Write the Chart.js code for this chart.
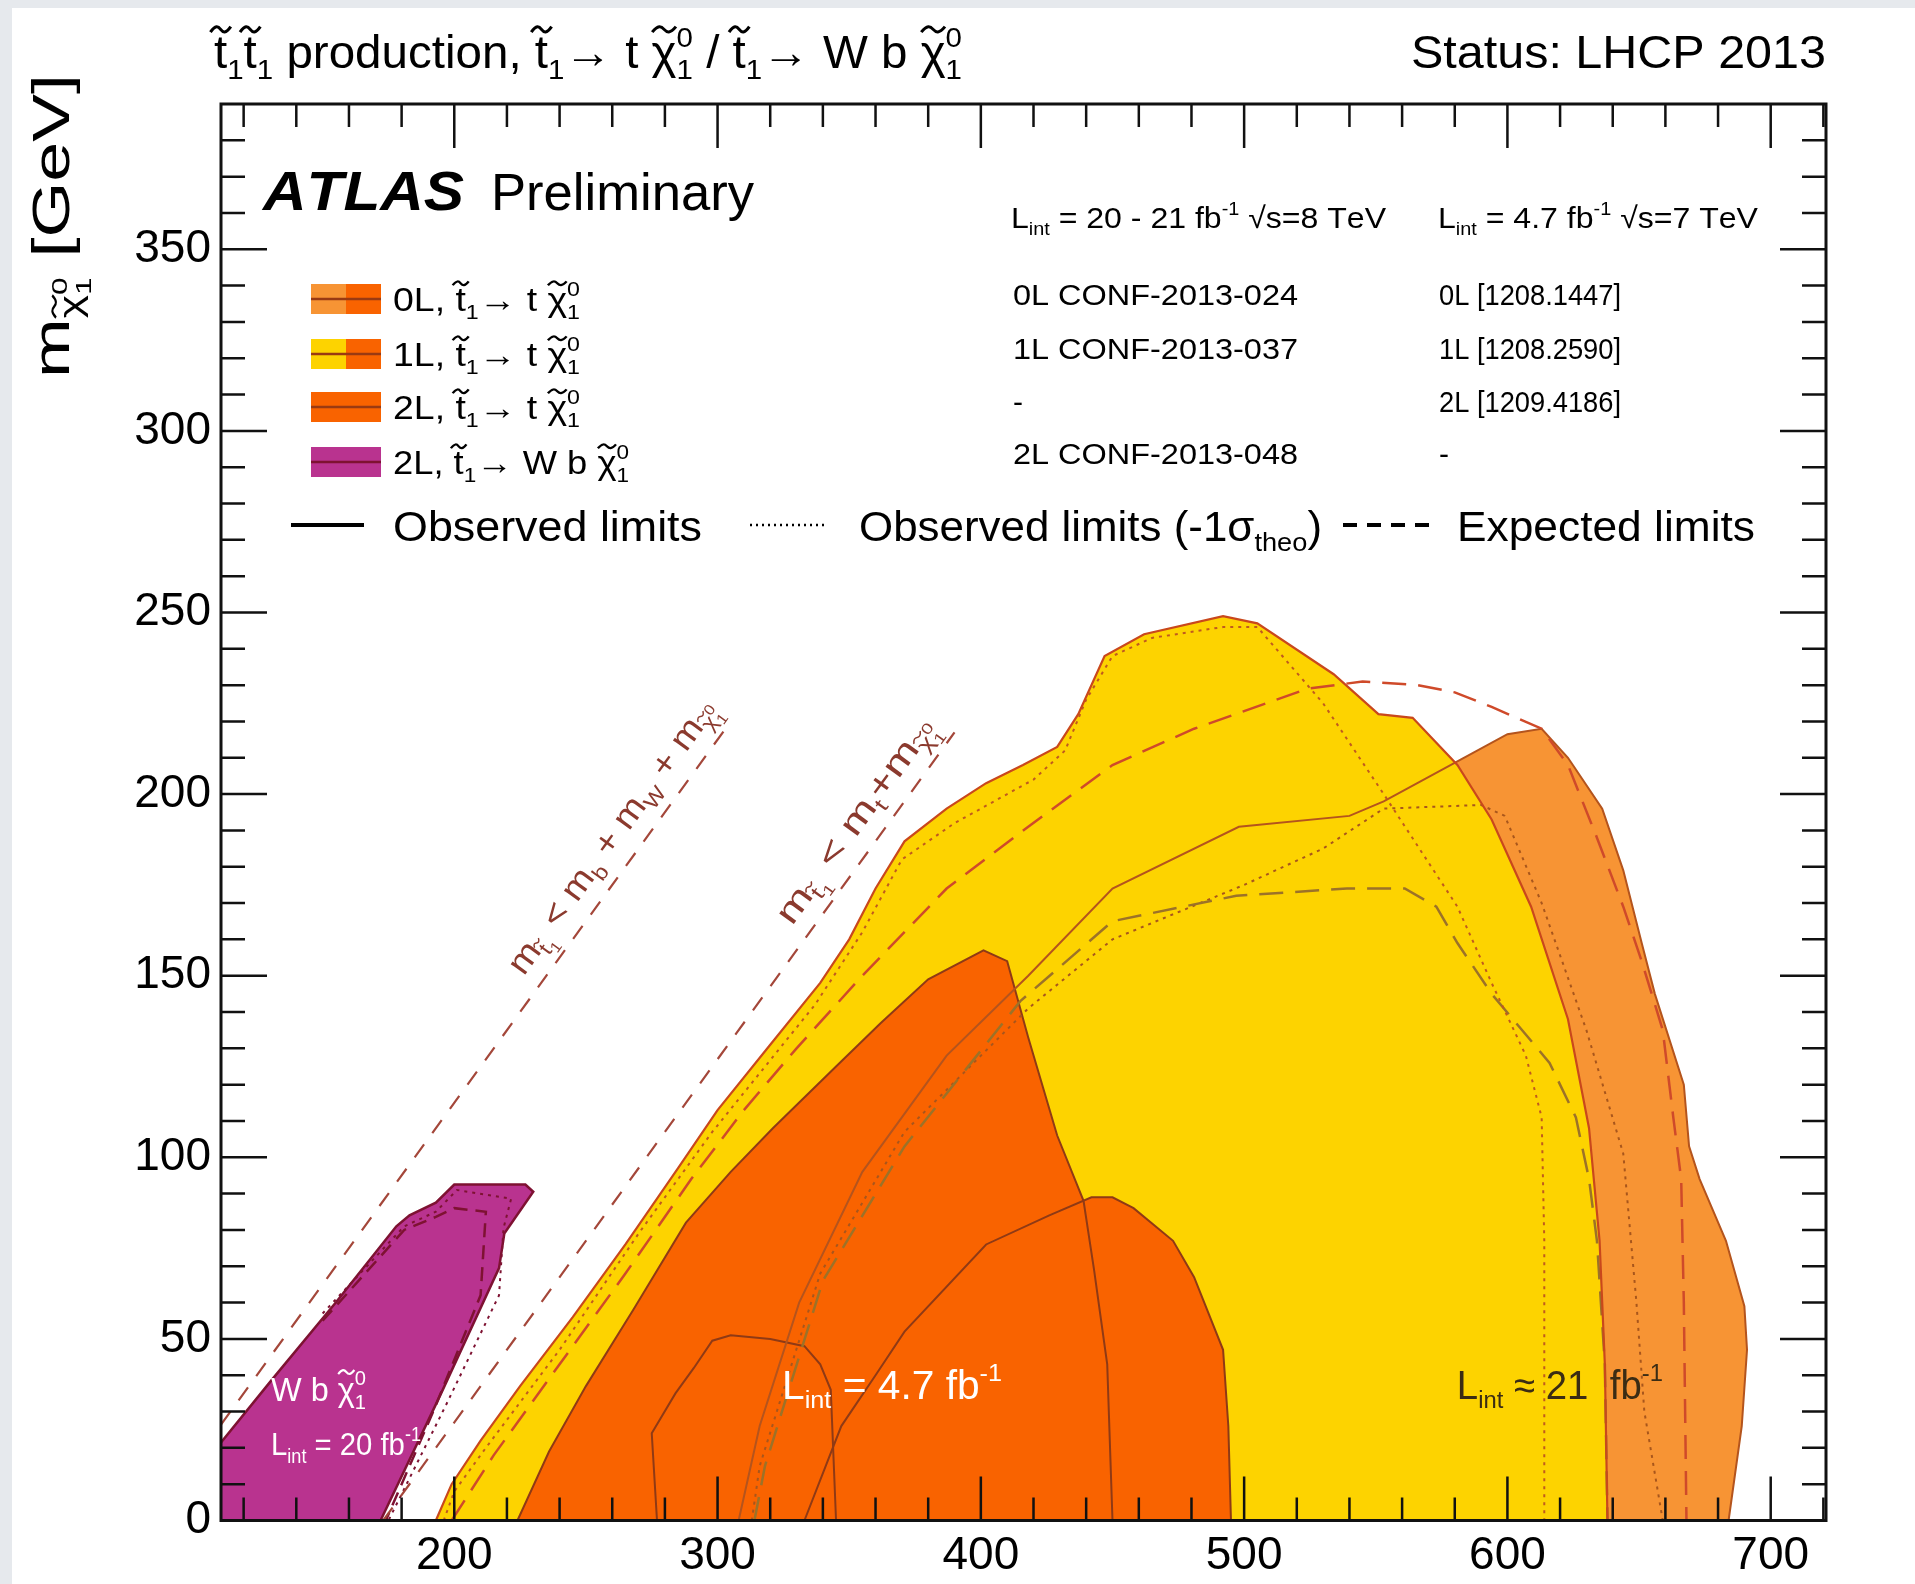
<!DOCTYPE html>
<html>
<head>
<meta charset="utf-8">
<script src="https://cdn.jsdelivr.net/npm/chart.js@4.4.1/dist/chart.umd.min.js"></script>
<style>
  html, body { margin: 0; padding: 0; background: #fff; }
  canvas { display: block; }
</style>
</head>
<body>
<canvas id="chart" width="1915" height="1584" style="width:1915px;height:1584px"></canvas>
<script>
// axis ranges and ticks
const xMin = 111.4, xMax = 721;
const yMin = 0, yMax = 390;
const xMajor = [200, 300, 400, 500, 600, 700];
const yMajor = [0, 50, 100, 150, 200, 250, 300, 350];
const xMinorStep = 20, yMinorStep = 10;

// 2L, stop -> W b chi (8 TeV)
const wbObs = [[111.4, 21.5], [131, 39], [155, 60], [178, 81], [183, 84], [193, 87.5], [200, 92.5], [227, 92.5], [230, 90.5], [219, 79], [217, 69.5], [195, 35], [172, 0]];
const wbDotted = [[150, 57], [181, 81], [193, 85], [201, 91], [221.6, 88.6], [218.7, 80.5], [217, 62], [197, 32], [175, 0]];
const wbDashed = [[150, 55], [181, 80], [193, 83.6], [200, 86], [212, 85], [210, 62], [192, 30], [174, 0]];

// 1L, stop -> t chi (8 TeV)
const obs1L = [[193, 0], [199, 10], [210, 22], [225, 37], [245, 56], [265, 76], [285, 97], [300, 113], [320, 131], [339, 148], [350, 160], [360, 174], [371, 187], [387, 196], [402, 203], [416, 208], [429, 213], [437, 222], [447, 238], [462, 244], [492, 249], [505, 247], [534, 233], [551, 222], [564, 221], [581, 208], [594, 193], [609, 169], [623, 138], [631, 108], [635, 77], [637, 43], [638, 0]];
const m1s1L = [[196, 0], [200, 8], [212, 20], [240, 47], [270, 79], [298, 107], [337, 142], [355, 162], [370, 182], [390, 192], [420, 204], [432, 212], [440, 226], [450, 238], [465, 243], [492, 246], [505, 246], [530, 225], [553, 200], [581, 169], [594, 148], [607, 128], [613, 111], [614, 77], [614, 0]];
const exp1L = [[199, 0], [215, 18], [240, 43], [265, 68], [290, 94], [310, 113], [330, 130], [355, 150], [387, 174], [418, 191], [450, 208], [481, 218], [524, 229], [545, 231], [566, 230], [580, 228], [594, 224], [613, 218], [623, 208], [634, 188], [644, 169], [651, 154], [659, 135], [663, 111], [666, 94], [667, 60], [668, 0]];

// 0L, stop -> t chi (8 TeV)
const obs0L = [[308, 0], [316, 26], [331, 60], [355, 96], [387, 128], [418, 150], [450, 174], [498, 191], [540, 194], [553, 198], [581, 209], [600, 216.5], [613, 218], [623, 210], [636, 196], [644, 179], [651, 159], [656, 145], [667, 120], [669, 103], [673, 94], [683, 77], [690, 59], [691, 47], [689, 26], [684, 0]];
const m1s0L = [[313, 0], [316, 15], [339, 68], [371, 107], [418, 141], [450, 160], [500, 175], [530, 185], [553, 196], [590, 197], [599, 194], [613, 170], [630, 135], [644, 101], [649, 60], [652, 30], [659, 0]];
const exp0L = [[314, 0], [318, 15], [340, 66], [371, 103], [415, 143], [450, 165], [497, 172], [539, 174], [561, 174], [573, 169], [581, 159], [594, 145], [616, 126], [626, 111], [631, 94], [634, 77], [637, 43], [638, 0]];

// 7 TeV results (4.7 fb-1)
const obs1L7 = [[224, 0], [236, 19], [250, 37], [268, 58], [288, 82], [305, 96], [321, 108], [345, 125], [362, 137], [380, 149], [401, 157], [410, 154], [418, 133], [429, 106], [439, 88], [443, 69], [448, 43], [450, 0]];
const obs0L7 = [[333, 0], [347, 26], [360, 40], [371, 52], [402, 76], [426, 84], [442, 89], [450, 89], [458, 86], [473, 77], [481, 67], [492, 47], [494, 26], [495, 0]];
const obs2L7 = [[277, 0], [275, 24], [284, 35], [291, 42], [298, 49.5], [305, 51], [320, 50], [333, 48], [339, 43], [343, 36], [345, 0]];

// kinematic limits
const kinWb = [[111.4, 26.4], [305, 220]];
const kinT = [[173, 0], [390, 217]];

const C_0L = '#f79434', C_1L = '#fdd300', C_7 = '#f96300', C_WB = '#b9338f';
const FAM = '"Liberation Sans", Arial, Helvetica, sans-serif';

const pts = arr => arr.map(([x, y]) => ({ x, y }));

function fillSet(arr, color) {
  return { data: pts(arr), backgroundColor: color, borderWidth: 0, fill: 'shape', pointRadius: 0 };
}
function lineSet(arr, color, width, dash) {
  return { data: pts(arr), borderColor: color, borderWidth: width, borderDash: dash || [], fill: false, pointRadius: 0 };
}

// back to front
const datasets = [
  fillSet(obs0L, C_0L),
  fillSet(obs1L, C_1L),
  fillSet(obs1L7, C_7),
  fillSet(obs0L7, C_7),
  fillSet(obs2L7, C_7),
  fillSet(wbObs.concat([[xMin, 0]]), C_WB),
  lineSet(obs1L7, '#8f3a15', 2),
  lineSet(obs0L7, '#8f3a15', 2),
  lineSet(obs2L7, '#8f3a15', 2),
  lineSet(m1s0L, '#a8561c', 2, [3, 5]),
  lineSet(exp0L, '#9c7228', 2.5, [24, 12]),
  lineSet(obs0L, '#b4541d', 2),
  lineSet(m1s1L, '#c05a1e', 2, [3, 5]),
  lineSet(exp1L, '#cf4a2a', 2.5, [24, 12]),
  lineSet(obs1L, '#c9481c', 2.2),
  lineSet(wbDotted, '#7e1232', 2, [3, 5]),
  lineSet(wbDashed, '#7e1232', 2.5, [14, 8]),
  lineSet(wbObs, '#7e1232', 2.5),
  lineSet(kinWb, '#a4473a', 2.2, [16, 14]),
  lineSet(kinT, '#a4473a', 2.2, [16, 14]),
];
datasets.forEach((d, i) => { d.order = datasets.length - i; });

// a char followed by U+0303 gets a hand-drawn tilde
const TIL = '\u0303';
function plainWidth(ctx, str) {
  let w = 0;
  for (const ch of str) if (ch !== TIL) w += ctx.measureText(ch).width;
  return w;
}
function drawTilde(ctx, cx, cy, w, size) {
  const h = size * 0.06;
  ctx.save();
  ctx.lineWidth = Math.max(1.2, size * 0.065);
  ctx.strokeStyle = ctx.fillStyle;
  ctx.beginPath();
  ctx.moveTo(cx - w / 2, cy + h);
  ctx.bezierCurveTo(cx - w / 4, cy - 1.6 * h, cx - w / 8, cy - 1.2 * h, cx, cy);
  ctx.bezierCurveTo(cx + w / 8, cy + 1.2 * h, cx + w / 4, cy + 1.6 * h, cx + w / 2, cy - h);
  ctx.stroke();
  ctx.restore();
}
function fillTextT(ctx, str, x, y, size) {
  const chars = [...str];
  let cx = x;
  for (let i = 0; i < chars.length; i++) {
    const ch = chars[i];
    if (ch === TIL) continue;
    const w = ctx.measureText(ch).width;
    ctx.fillText(ch, cx, y);
    if (chars[i + 1] === TIL) drawTilde(ctx, cx + w / 2, y - size * 0.84, Math.max(w, size * 0.45) * 0.95, size);
    cx += w;
  }
}

// rich text: segs = [[text, kind]]
// kind '' normal, 'b' sub, 'p' sup, 'bp' stacked sup/sub, 'bb' sub of sub, 'bbp' stacked at sub level
function drawRich(ctx, segs, x, y, size, o = {}) {
  const f = s => `${o.style || ''} ${o.weight || ''} ${s}px ${FAM}`;
  const s1 = size * 0.62, s2 = size * 0.44;
  const sizeOf = k => (!k ? size : (k === 'bb' || k === 'bbp') ? s2 : s1);
  const parts = segs.map(([t, k]) => {
    ctx.font = f(sizeOf(k));
    const w = Array.isArray(t) ? Math.max(plainWidth(ctx, t[0]), plainWidth(ctx, t[1])) : plainWidth(ctx, t);
    return { t, k, w };
  });
  const natural = parts.reduce((a, p) => a + p.w, 0);
  const sx = o.width ? o.width / natural : (o.sx || 1);
  const total = natural * sx;
  ctx.save();
  ctx.translate(x, y);
  if (o.rot) ctx.rotate(o.rot);
  if (o.vcenter) ctx.translate(0, size * 0.36);
  ctx.translate(o.align === 'center' ? -total / 2 : o.align === 'right' ? -total : 0, 0);
  ctx.scale(sx, 1);
  ctx.fillStyle = o.color || '#000';
  ctx.textAlign = 'left';
  ctx.textBaseline = 'alphabetic';
  let cx = 0;
  for (const p of parts) {
    const fs = sizeOf(p.k);
    ctx.font = f(fs);
    if (p.k === 'bp') {
      fillTextT(ctx, p.t[0], cx, -size * 0.45, fs);
      fillTextT(ctx, p.t[1], cx, size * 0.24, fs);
    } else if (p.k === 'bbp') {
      fillTextT(ctx, p.t[0], cx, -size * 0.04, fs);
      fillTextT(ctx, p.t[1], cx, size * 0.42, fs);
    } else if (p.k === 'b') {
      fillTextT(ctx, p.t, cx, size * 0.24, fs);
    } else if (p.k === 'bb') {
      fillTextT(ctx, p.t, cx, size * 0.4, fs);
    } else if (p.k === 'p') {
      fillTextT(ctx, p.t, cx, -size * 0.45, fs);
    } else {
      fillTextT(ctx, p.t, cx, 0, fs);
    }
    cx += p.w;
  }
  ctx.restore();
}

const stop = 't' + TIL, chi = '\u03c7' + TIL;
const chi10 = [[chi], [['0', '1'], 'bp']];

const atlasPlugin = {
  id: 'atlas',
  beforeDraw(chart) {
    const { ctx, width, height } = chart;
    ctx.save();
    ctx.fillStyle = '#fff';
    ctx.fillRect(0, 0, width, height);
    ctx.fillStyle = '#e6e9ed';
    ctx.fillRect(0, 0, 12, height);
    ctx.fillRect(0, 0, width, 8);
    ctx.restore();
  },
  afterDatasetsDraw(chart) {
    const { ctx, chartArea: a } = chart;
    const { x, y } = chart.scales;
    ctx.save();
    ctx.strokeStyle = '#111';
    ctx.lineWidth = 2.5;
    ctx.beginPath();
    for (let v = Math.ceil(xMin / xMinorStep) * xMinorStep; v < xMax; v += xMinorStep) {
      const px = x.getPixelForValue(v);
      const len = xMajor.includes(v) ? 44 : 23;
      ctx.moveTo(px, a.bottom); ctx.lineTo(px, a.bottom - len);
      ctx.moveTo(px, a.top); ctx.lineTo(px, a.top + len);
    }
    for (let v = yMin + yMinorStep; v < yMax; v += yMinorStep) {
      const py = y.getPixelForValue(v);
      const len = yMajor.includes(v) ? 46 : 24;
      ctx.moveTo(a.left, py); ctx.lineTo(a.left + len, py);
      ctx.moveTo(a.right, py); ctx.lineTo(a.right - len, py);
    }
    ctx.stroke();
    ctx.lineWidth = 3;
    ctx.strokeRect(a.left, a.top, a.right - a.left, a.bottom - a.top);
    ctx.restore();
  },
  afterDraw(chart) {
    const { ctx } = chart;
    const { x, y } = chart.scales;

    // header
    drawRich(ctx, [[stop], ['1', 'b'], [stop], ['1', 'b'], [' production, ' + stop], ['1', 'b'],
      ['\u2192 t ' + chi], [['0', '1'], 'bp'], [' / ' + stop], ['1', 'b'], ['\u2192 W b ' + chi], [['0', '1'], 'bp']],
      214, 68, 46, { width: 748 });
    drawRich(ctx, [['Status: LHCP 2013']], 1826, 68, 46, { align: 'right', width: 415 });

    // y axis title
    drawRich(ctx, [['m'], [chi, 'b'], [['0', '1'], 'bbp'], [' [GeV]']], 50, 226, 52,
      { rot: -Math.PI / 2, align: 'center', vcenter: true, width: 304 });

    // ATLAS Preliminary
    drawRich(ctx, [['ATLAS']], 263, 210, 56, { weight: 'bold', style: 'italic', width: 201 });
    drawRich(ctx, [['Preliminary']], 491, 210, 52, { width: 263 });

    // luminosity header columns
    drawRich(ctx, [['L'], ['int', 'b'], [' = 20 - 21 fb'], ['-1', 'p'], [' \u221as=8 TeV']], 1011, 228, 30, { width: 375 });
    drawRich(ctx, [['L'], ['int', 'b'], [' = 4.7 fb'], ['-1', 'p'], [' \u221as=7 TeV']], 1438, 228, 30, { width: 320 });
    const col1 = ['0L CONF-2013-024', '1L CONF-2013-037', '-', '2L CONF-2013-048'];
    const col2 = ['0L [1208.1447]', '1L [1208.2590]', '2L [1209.4186]', '-'];
    const rowY = [305, 359, 412, 464];
    col1.forEach((t, i) => drawRich(ctx, [[t]], 1013, rowY[i], 30, t === '-' ? {} : { width: 285 }));
    col2.forEach((t, i) => drawRich(ctx, [[t]], 1439, rowY[i], 30, t === '-' ? {} : { width: 182 }));

    // legend swatches
    const items = [
      { c1: C_0L, c2: C_7, ln: '#9a3a12', segs: [['0L, ' + stop], ['1', 'b'], ['\u2192 t ']].concat(chi10), w: 187 },
      { c1: C_1L, c2: C_7, ln: '#9a3a12', segs: [['1L, ' + stop], ['1', 'b'], ['\u2192 t ']].concat(chi10), w: 187 },
      { c1: C_7, c2: C_7, ln: '#9a3a12', segs: [['2L, ' + stop], ['1', 'b'], ['\u2192 t ']].concat(chi10), w: 187 },
      { c1: C_WB, c2: C_WB, ln: '#7e1232', segs: [['2L, ' + stop], ['1', 'b'], ['\u2192 W b ']].concat(chi10), w: 236 },
    ];
    const legY = [299, 354, 407, 462];
    items.forEach((it, i) => {
      const cy = legY[i];
      ctx.fillStyle = it.c1; ctx.fillRect(311, cy - 15, 35, 30);
      ctx.fillStyle = it.c2; ctx.fillRect(346, cy - 15, 35, 30);
      ctx.strokeStyle = it.ln; ctx.lineWidth = 2.5;
      ctx.beginPath(); ctx.moveTo(311, cy); ctx.lineTo(381, cy); ctx.stroke();
      drawRich(ctx, it.segs, 393, cy + 12, 33, { width: it.w });
    });

    // line style legend
    ctx.save();
    ctx.strokeStyle = '#000';
    ctx.lineWidth = 4;
    ctx.beginPath(); ctx.moveTo(291, 525); ctx.lineTo(364, 525); ctx.stroke();
    ctx.lineWidth = 2.5; ctx.setLineDash([2, 4]);
    ctx.beginPath(); ctx.moveTo(750, 525); ctx.lineTo(828, 525); ctx.stroke();
    ctx.lineWidth = 4; ctx.setLineDash([14, 10]);
    ctx.beginPath(); ctx.moveTo(1343, 525); ctx.lineTo(1432, 525); ctx.stroke();
    ctx.restore();
    drawRich(ctx, [['Observed limits']], 393, 541, 43, { width: 309 });
    drawRich(ctx, [['Observed limits (-1\u03c3'], ['theo', 'b'], [')']], 859, 541, 43, { width: 463 });
    drawRich(ctx, [['Expected limits']], 1457, 541, 43, { width: 298 });

    // labels inside the plot, placed in data coordinates
    const px = v => x.getPixelForValue(v), py = v => y.getPixelForValue(v);
    drawRich(ctx, [['W b ']].concat(chi10), px(130.4), py(33), 34, { color: '#fff', width: 95 });
    drawRich(ctx, [['L'], ['int', 'b'], [' = 20 fb'], ['-1', 'p']], px(130.4), py(18), 32, { color: '#fff', width: 150 });
    drawRich(ctx, [['L'], ['int', 'b'], [' = 4.7 fb'], ['-1', 'p']], px(324.5), py(33.5), 40, { color: '#fff', width: 220 });
    drawRich(ctx, [['L'], ['int', 'b'], [' \u2248 21  fb'], ['-1', 'p']], px(580.8), py(33.5), 40, { color: '#3b2c14', width: 206 });

    // kinematic limit labels, rotated along their lines and set off to the upper left
    const labelOnLine = (line, atX, segs, w) => {
      const [[x0, y0], [x1, y1]] = line;
      const dx = px(x1) - px(x0), dy = py(y1) - py(y0);
      const len = Math.hypot(dx, dy);
      const ang = Math.atan2(dy, dx);
      const t = (atX - x0) / (x1 - x0);
      const cx = px(x0) + t * dx + (dy / len) * 30;
      const cy = py(y0) + t * dy - (dx / len) * 30;
      drawRich(ctx, segs, cx, cy, 34, { rot: ang, align: 'center', vcenter: true, color: '#8b3a2e', width: w });
    };
    labelOnLine(kinWb, 268.6, [['m'], [stop, 'b'], ['1', 'bb'], [' < m'], ['b', 'b'], [' + m'], ['W', 'b'], [' + m'], [chi, 'b'], [['0', '1'], 'bbp']], 330);
    labelOnLine(kinT, 361, [['m'], [stop, 'b'], ['1', 'bb'], [' < m'], ['t', 'b'], ['+m'], [chi, 'b'], [['0', '1'], 'bbp']], 245);
  }
};

const tickFont = { family: FAM, size: 46 };

new Chart(document.getElementById('chart').getContext('2d'), {
  type: 'line',
  data: { datasets },
  options: {
    responsive: false,
    animation: false,
    devicePixelRatio: 1,
    events: [],
    layout: { padding: { left: 0, right: 89, top: 104, bottom: 0 } },
    elements: { line: { tension: 0 }, point: { radius: 0 } },
    scales: {
      x: {
        type: 'linear', min: xMin, max: xMax,
        afterBuildTicks: s => { s.ticks = xMajor.map(v => ({ value: v })); },
        afterFit: s => { s.height = 63.5; },
        grid: { display: false, drawTicks: false },
        border: { display: false },
        ticks: { font: tickFont, color: '#000', padding: 8, maxRotation: 0, autoSkip: false }
      },
      y: {
        type: 'linear', min: yMin, max: yMax,
        afterBuildTicks: s => { s.ticks = yMajor.map(v => ({ value: v })); },
        afterFit: s => { s.width = 221; },
        grid: { display: false, drawTicks: false },
        border: { display: false },
        ticks: { font: tickFont, color: '#000', padding: 10, autoSkip: false }
      }
    },
    plugins: { legend: { display: false }, tooltip: { enabled: false } }
  },
  plugins: [atlasPlugin]
});
</script>
</body>
</html>
